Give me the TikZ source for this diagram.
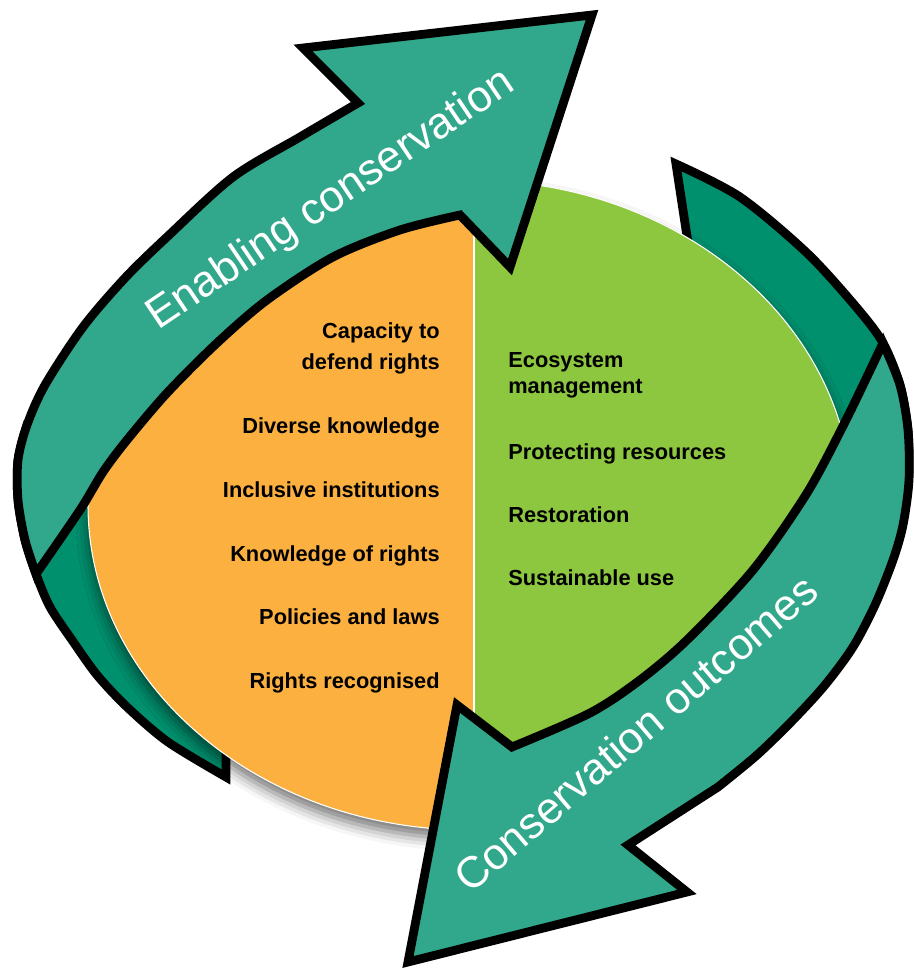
\documentclass[tikz,border=0pt]{standalone}
\usepackage{fontspec}
\setmainfont{Liberation Sans}
\usepackage{tikz}
\usetikzlibrary{shadows.blur}
\definecolor{cycle-teal}{HTML}{31A78B}
\definecolor{cycle-dark}{HTML}{00906E}
\definecolor{pie-orange}{HTML}{FBB040}
\definecolor{pie-green}{HTML}{8DC63F}
\tikzset{
    arrow-front/.style = {fill=cycle-teal, draw=black, line width=5pt, line join=miter},
    arrow-back/.style = {fill=cycle-dark, draw=black, line width=5pt, line join=miter},
    arrow-label/.style = {text=white, font=\fontsize{25}{30}\selectfont, inner sep=0pt, anchor=base west},
    left-item/.style = {font=\bfseries\fontsize{12.4}{17.6}\selectfont, align=right, inner sep=0pt},
    right-item/.style = {font=\bfseries\fontsize{12.4}{14.8}\selectfont, align=left, inner sep=0pt},
}

\begin{document}
\begin{tikzpicture}[x=0.02cm, y=-0.02cm]
\useasboundingbox (0,0) rectangle (913,970);

\path[arrow-back] (27,425) -- plot[smooth] coordinates {(27,425) (18,460) (18,500) (25,540) (36,574) (50,607) (72,640) (97,675) (127,707) (168,742) (226,777)}
    -- (226,730) -- (160,660) -- (110,560) -- (100,470) -- (60,430) -- cycle;
\path[arrow-back] (676,164) -- (690,256) -- (760,320) -- (820,400) -- (840,460) -- (880,480) -- (909,470)
    -- plot[smooth] coordinates {(909,470) (908,430) (900,385) (883,343) (857,308) (807,253) (740,197) (676,164)} -- cycle;

\path[fill=pie-orange, blur shadow={shadow xshift=0pt, shadow yshift=-5pt, shadow blur radius=7pt, shadow opacity=55}]
    (470,505) ellipse [x radius=382, y radius=325];
\begin{scope}
    \clip (470,505) ellipse [x radius=382, y radius=325];
    \fill[pie-orange] (80,170) rectangle (474,840);
    \fill[pie-green] (474,170) rectangle (860,840);
    \draw[white, line width=0.6pt] (474,170) -- (474,840);
\end{scope}
\draw[white, line width=0.6pt] (470,505) ellipse [x radius=382, y radius=325];

\path[arrow-front] (36,574) -- plot[smooth] coordinates {(36,574) (25,540) (18,500) (18,460) (27,425) (45,385) (83,327) (125,278) (167,237) (233,177) (300,137) (358,103)}
    -- (303,48) -- (592,15) -- (510,267) -- (460,215)
    -- plot[smooth] coordinates {(460,215) (400,230) (333,257) (267,300) (217,343) (167,393) (127,440) (103,472) (80,510) (36,574)} -- cycle;
\path[arrow-front] (883,343) -- plot[smooth] coordinates {(883,343) (900,385) (908,430) (909,480) (903,525) (893,560) (875,605) (853,647) (825,685) (793,720) (757,755) (718,787)}
    -- (628,845) -- (687,892) -- (408,962) -- (457,705) -- (512,747)
    -- plot[smooth] coordinates {(512,747) (590,713) (640,680) (687,640) (753,570) (807,493) (846,420) (883,343)} -- cycle;

\node[arrow-label, rotate=34] (enabling) at (158,331) {Enabling conservation};
\node[arrow-label, rotate=40.5] (outcomes) at (470,895) {Conservation outcomes};

\node[left-item, anchor=east] (capacity) at (440,348) {Capacity to\\defend rights};
\node[left-item, anchor=base east] (diverse) at (440,433) {Diverse knowledge};
\node[left-item, anchor=base east] (inclusive) at (440,497) {Inclusive institutions};
\node[left-item, anchor=base east] (knowledge) at (440,561) {Knowledge of rights};
\node[left-item, anchor=base east] (policies) at (440,624) {Policies and laws};
\node[left-item, anchor=base east] (rights) at (440,688) {Rights recognised};

\node[right-item, anchor=west] (ecosystem) at (508,375) {Ecosystem\\management};
\node[right-item, anchor=base west] (protecting) at (508,459) {Protecting resources};
\node[right-item, anchor=base west] (restoration) at (508,522) {Restoration};
\node[right-item, anchor=base west] (sustainable) at (508,585) {Sustainable use};
\end{tikzpicture}
\end{document}
